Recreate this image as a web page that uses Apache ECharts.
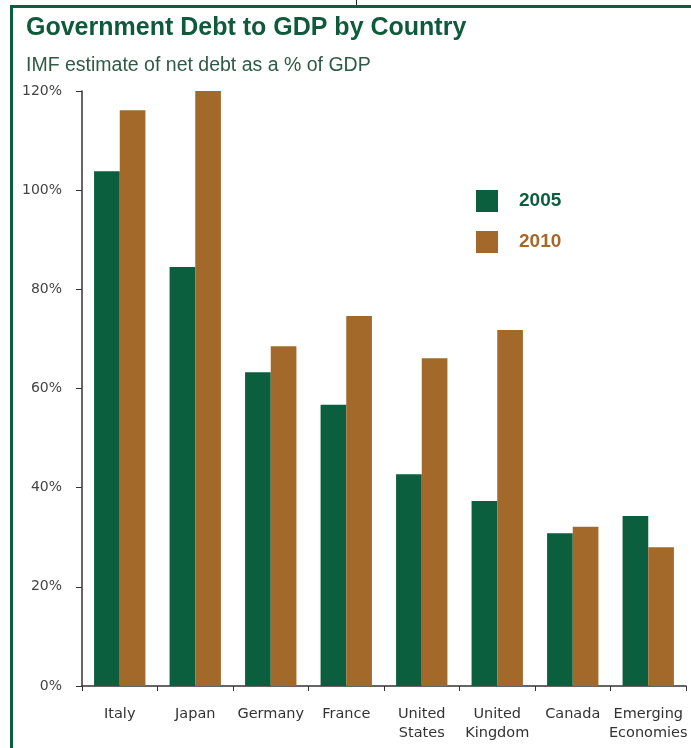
<!DOCTYPE html>
<html>
<head>
<meta charset="utf-8">
<script src="https://cdn.jsdelivr.net/npm/echarts@6/dist/echarts.min.js"></script>
<style>
  html, body { margin: 0; padding: 0; background: #fff; }
  #chart { width: 691px; height: 748px; }
</style>
</head>
<body>
<div id="chart"></div>
<script>
// data
const countries = ['Italy', 'Japan', 'Germany', 'France', 'United\nStates', 'United\nKingdom', 'Canada', 'Emerging\nEconomies'];
const debt2005 = [103.8, 84.5, 63.3, 56.7, 42.7, 37.3, 30.8, 34.3];
const debt2010 = [116.1, 120, 68.5, 74.6, 66.1, 71.8, 32.1, 28.0];
const yTicks = [0, 20, 40, 60, 80, 100, 120];

const green = '#0b5e3e';
const brown = '#a2692b';

const chart = echarts.init(document.getElementById('chart'));

const option = {
  animation: false,
  title: [
    {
      text: 'Government Debt to GDP by Country',
      left: 21,
      top: 11,
      textStyle: { fontFamily: 'Liberation Sans', fontWeight: 'bold', fontSize: 25, color: '#0f5a3b' }
    },
    {
      text: 'IMF estimate of net debt as a % of GDP',
      left: 21,
      top: 51,
      textStyle: { fontFamily: 'Liberation Sans Narrow, Liberation Sans', fontWeight: 'normal', fontSize: 19.5, color: '#2f5a46' }
    }
  ],
  graphic: [
    { type: 'rect', shape: { x: 10, y: 5, width: 3, height: 743 }, style: { fill: '#0b5e3e' } },
    { type: 'rect', shape: { x: 10, y: 5, width: 681, height: 3 }, style: { fill: '#0b5e3e' } },
    { type: 'rect', shape: { x: 356, y: 0, width: 1, height: 5 }, style: { fill: '#222' } }
  ],
  legend: {
    orient: 'vertical',
    left: 471,
    top: 185,
    itemWidth: 22,
    itemHeight: 22,
    itemGap: 19,
    icon: 'rect',
    data: [
      { name: '2005', textStyle: { color: green } },
      { name: '2010', textStyle: { color: brown } }
    ],
    textStyle: { fontFamily: 'Liberation Sans', fontWeight: 'bold', fontSize: 19, padding: [0, 0, 0, 16] }
  },
  grid: {
    left: 82,
    right: 5,
    top: 91,
    bottom: 62,
    containLabel: false
  },
  xAxis: {
    type: 'category',
    data: countries,
    axisLine: { lineStyle: { color: '#333', width: 1.5 } },
    axisTick: { show: true, length: 5, lineStyle: { color: '#333' } },
    axisLabel: {
      color: '#333',
      fontFamily: 'DejaVu Sans',
      fontSize: 14.5,
      lineHeight: 19,
      margin: 19,
      interval: 0
    }
  },
  yAxis: {
    type: 'value',
    min: 0,
    max: 120,
    interval: 20,
    axisLine: { show: true, lineStyle: { color: '#333', width: 1.5 } },
    axisTick: { show: true, length: 6, lineStyle: { color: '#333' } },
    splitLine: { show: false },
    axisLabel: {
      color: '#444',
      fontFamily: 'DejaVu Sans',
      fontSize: 14,
      margin: 20,
      formatter: function (v) { return yTicks.indexOf(v) >= 0 ? v + '%' : ''; }
    }
  },
  series: [
    {
      name: '2005',
      type: 'bar',
      data: debt2005,
      barGap: '0%',
      barCategoryGap: '32%',
      itemStyle: { color: green }
    },
    {
      name: '2010',
      type: 'bar',
      data: debt2010,
      itemStyle: { color: brown }
    }
  ]
};

chart.setOption(option);
</script>
</body>
</html>
